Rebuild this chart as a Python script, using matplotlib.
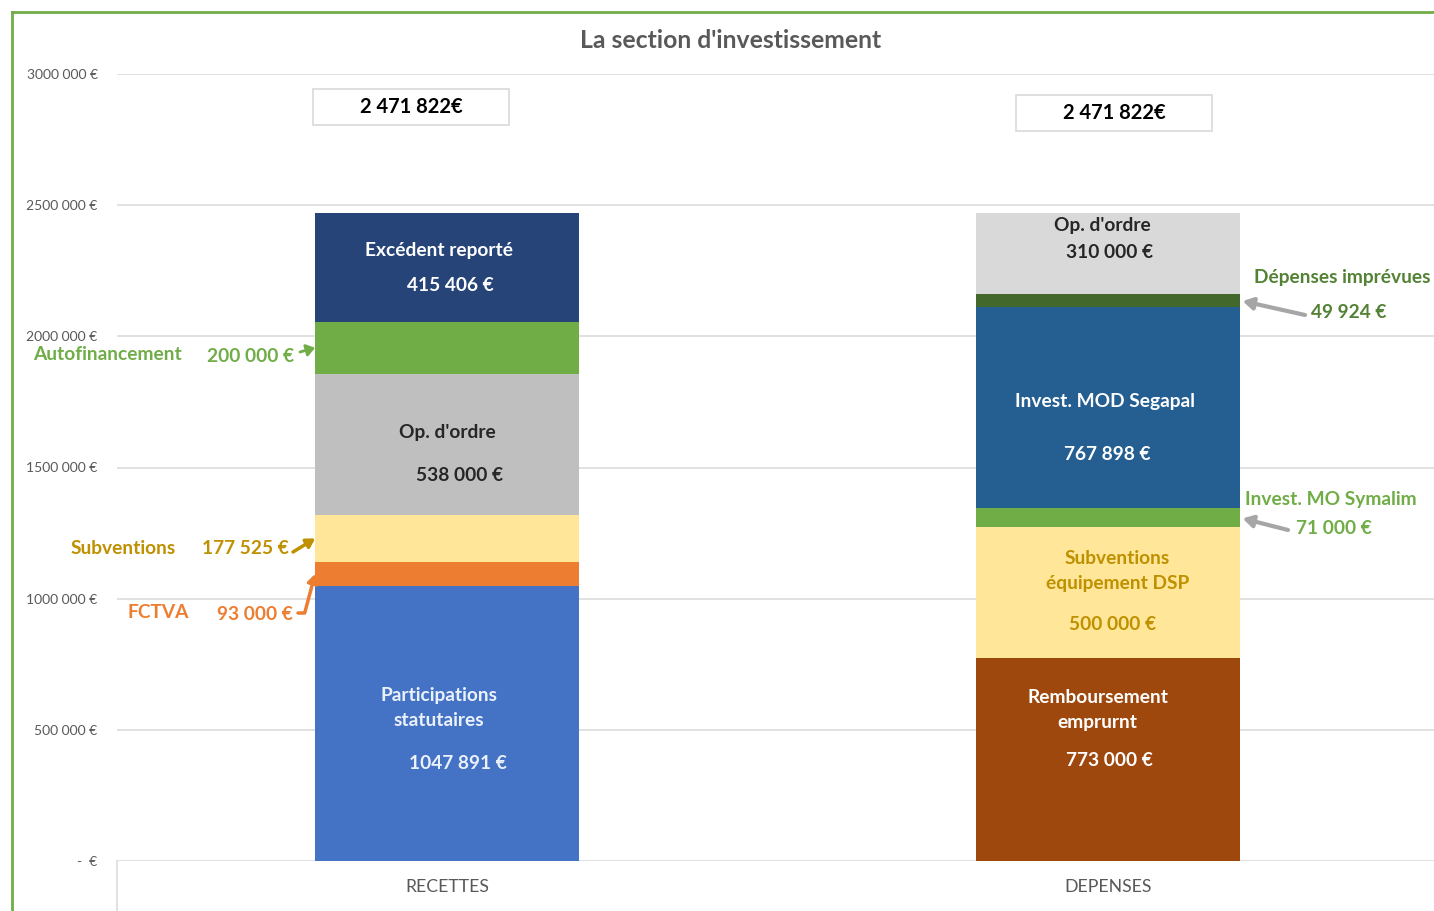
import matplotlib
matplotlib.use("Agg")
import matplotlib.pyplot as plt
import matplotlib.transforms as mtransforms
from matplotlib.patches import Rectangle
from matplotlib.lines import Line2D

plt.rcParams['font.family'] = ['Lato', 'DejaVu Sans']

# ---------------- data ----------------
categories = ["RECETTES", "DEPENSES"]

recettes_names = ["Participations\nstatutaires", "FCTVA", "Subventions",
                  "Op. d'ordre", "Autofinancement", "Excédent reporté"]
recettes_values = [1047891, 93000, 177525, 538000, 200000, 415406]

depenses_names = ["Remboursement\nemprurnt", "Subventions\néquipement DSP",
                  "Invest. MO Symalim", "Invest. MOD Segapal",
                  "Dépenses imprévues", "Op. d'ordre"]
depenses_values = [773000, 500000, 71000, 767898, 49924, 310000]

yticks = [0, 500000, 1000000, 1500000, 2000000, 2500000, 3000000]

# ---------------- style ----------------
recettes_colors = ["#4472C4", "#ED7D31", "#FFE699", "#BFBFBF", "#70AD47", "#264478"]
depenses_colors = ["#9E480E", "#FFE699", "#70AD47", "#255E91", "#43682B", "#D9D9D9"]

W, H = 1434, 911
fig = plt.figure(figsize=(W / 100, H / 100), dpi=100)
PX = mtransforms.Affine2D().scale(1 / W, -1 / H).translate(0, 1) + fig.transFigure

ax_left, ax_right, ax_bottom, ax_top = 117, 1438, 861, 74
ax = fig.add_axes([ax_left / W, 1 - ax_bottom / H,
                   (ax_right - ax_left) / W, (ax_bottom - ax_top) / H])
ax.set_xlim(-0.5, 1.5)
ax.set_ylim(0, 3000000)
bar_w = 0.40


def fmt_eur(v):
    v = int(round(v))
    if v == 0:
        return "-  €"
    return f"{v // 1000} {v % 1000:03d} €"


def fmt_total(v):
    return f"{int(v):,}".replace(",", " ") + "€"


# bars
xs = list(range(len(categories)))
bottom = 0
for v, c in zip(recettes_values, recettes_colors):
    ax.bar(xs[0], v, bottom=bottom, width=bar_w, color=c, zorder=3)
    bottom += v
bottom = 0
for v, c in zip(depenses_values, depenses_colors):
    ax.bar(xs[1], v, bottom=bottom, width=bar_w, color=c, zorder=3)
    bottom += v

# cumulative bounds
def bounds(vals):
    out, b = [], 0
    for v in vals:
        out.append((b, b + v))
        b += v
    return out

rb = bounds(recettes_values)
db = bounds(depenses_values)

# axes styling
for s in ax.spines.values():
    s.set_visible(False)
ax.set_yticks(yticks)
ax.set_yticklabels([fmt_eur(v) for v in yticks], fontsize=10, color="#595959")
ax.tick_params(axis='y', length=0, pad=14)
ax.set_xticks(xs)
ax.set_xticklabels(categories, fontsize=12.7, color="#595959")
ax.tick_params(axis='x', length=0, pad=13)
ax.grid(axis='y', color="#D9D9D9", lw=1.1, zorder=0)
ax.set_axisbelow(True)
ax.plot([-0.5, -0.5], [0, -300000], color="#D9D9D9", lw=1.1, clip_on=False)

# labels inside bars: (text, x offset, y, color)
inner_left = [
    ("Excédent reporté", -0.013, 2329000, "white"),
    (fmt_eur(recettes_values[5]), 0.005, 2192000, "white"),
    ("Op. d'ordre", 0.0, 1635000, "#262626"),
    (fmt_eur(recettes_values[3]), 0.018, 1471000, "#262626"),
    (recettes_names[0], -0.013, 583000, "#EAF1FB"),
    (fmt_eur(recettes_values[0]), 0.016, 370000, "#EAF1FB"),
]
inner_right = [
    ("Op. d'ordre", -0.008, 2421000, "#262626"),
    (fmt_eur(depenses_values[5]), 0.003, 2318000, "#262626"),
    (depenses_names[3], -0.004, 1750000, "white"),
    (fmt_eur(depenses_values[3]), 0.0, 1548000, "white"),
    (depenses_names[1], 0.015, 1105000, "#BF9000"),
    (fmt_eur(depenses_values[1]), 0.008, 903000, "#BF9000"),
    (depenses_names[0], -0.015, 576000, "white"),
    (fmt_eur(depenses_values[0]), 0.003, 385000, "white"),
]
for t, dx, y, c in inner_left:
    ax.text(xs[0] + dx, y, t, ha='center', va='center', fontsize=13.8,
            fontweight='bold', color=c, zorder=5, linespacing=1.55)
for t, dx, y, c in inner_right:
    ax.text(xs[1] + dx, y, t, ha='center', va='center', fontsize=13.8,
            fontweight='bold', color=c, zorder=5, linespacing=1.55)

# totals boxes
totals = [sum(recettes_values), sum(depenses_values)]
box_specs = [(313, 89, 509, 125), (1016, 95, 1212, 131)]
for tot, (x0, y0, x1, y1) in zip(totals, box_specs):
    fig.patches.append(Rectangle((x0, y0), x1 - x0, y1 - y0, transform=PX,
                                 facecolor="white", edgecolor="#D9D9D9", lw=1.2))
    fig.text((x0 + x1) / 2, (y0 + y1) / 2, fmt_total(tot), transform=PX,
             ha='center', va='center', fontsize=14.5, fontweight='bold',
             color="black")

# title
fig.text(731, 40, "La section d'investissement", transform=PX, ha='center',
         va='center', fontsize=17.8, fontweight='bold', color="#595959")

# side annotations
def side_text(x, y, s, color):
    fig.text(x, y, s, transform=PX, ha='center', va='center', fontsize=13.8,
             fontweight='bold', color=color)

left_edge = xs[0] - bar_w / 2
right_edge = xs[1] + bar_w / 2

side_text(107, 355, recettes_names[4], "#70AD47")
side_text(251, 356, fmt_eur(recettes_values[4]), "#70AD47")
ax.annotate("", xy=(left_edge, sum(rb[4]) / 2), xycoords='data',
            xytext=(300, 352), textcoords=PX,
            arrowprops=dict(arrowstyle="-|>,head_width=0.35,head_length=0.5",
                            color="#70AD47", lw=2, shrinkA=0, shrinkB=0))

side_text(123, 549, recettes_names[2], "#BF9000")
side_text(245, 549, fmt_eur(recettes_values[2]), "#BF9000")
ax.annotate("", xy=(left_edge, sum(rb[2]) / 2), xycoords='data',
            xytext=(293, 552), textcoords=PX,
            arrowprops=dict(arrowstyle="-|>,head_width=0.3,head_length=0.5",
                            color="#BF9000", lw=2.5, shrinkA=0, shrinkB=0))

side_text(158, 612, recettes_names[1], "#ED7D31")
side_text(255, 614, fmt_eur(recettes_values[1]), "#ED7D31")
ax.annotate("", xy=(left_edge, sum(rb[1]) / 2), xycoords='data',
            xytext=(298, 613), textcoords=PX,
            arrowprops=dict(arrowstyle="-|>,head_width=0.3,head_length=0.5",
                            color="#ED7D31", lw=2.5, shrinkA=0, shrinkB=0,
                            connectionstyle="angle,angleA=0,angleB=75,rad=0"))

side_text(1342, 278, depenses_names[4], "#548235")
side_text(1349, 313, fmt_eur(depenses_values[4]), "#548235")
ax.annotate("", xy=(right_edge, sum(db[4]) / 2), xycoords='data',
            xytext=(1305, 315), textcoords=PX,
            arrowprops=dict(arrowstyle="-|>,head_width=0.35,head_length=0.6",
                            color="#A6A6A6", lw=3, shrinkA=0, shrinkB=2))

side_text(1331, 500, depenses_names[2], "#70AD47")
side_text(1334, 528, fmt_eur(depenses_values[2]), "#70AD47")
ax.annotate("", xy=(right_edge, sum(db[2]) / 2), xycoords='data',
            xytext=(1288, 530), textcoords=PX,
            arrowprops=dict(arrowstyle="-|>,head_width=0.35,head_length=0.6",
                            color="#A6A6A6", lw=3, shrinkA=0, shrinkB=2))

# green frame
fig.lines.append(Line2D([12, 12], [12, 920], transform=PX, color="#70AD47", lw=2))
fig.lines.append(Line2D([12, 1440], [12, 12], transform=PX, color="#70AD47", lw=2))

fig.savefig("out.png", dpi=100)
